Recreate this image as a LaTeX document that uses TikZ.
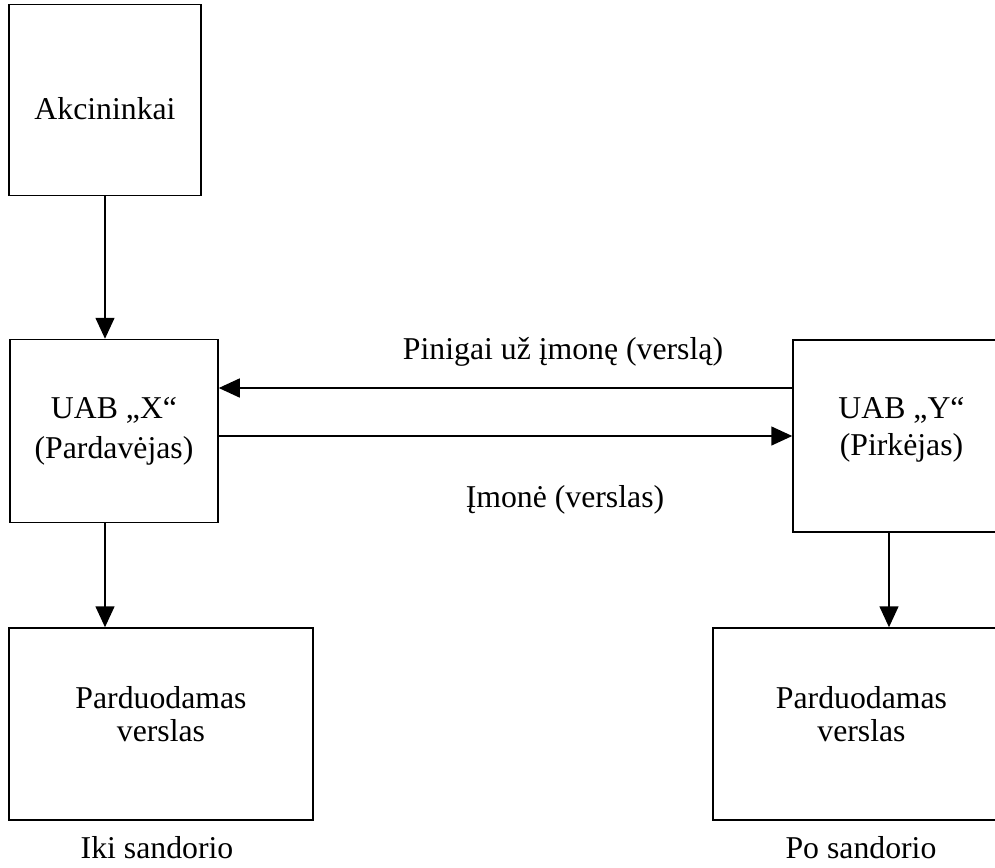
\documentclass[tikz,border=0pt]{standalone}
\usepackage{fontspec}
\setmainfont{Liberation Serif}
\usetikzlibrary{positioning,arrows.meta,calc}
\tikzset{
  box/.style={draw=black, line width=0.6pt, align=center, inner sep=3pt,
    font=\fontsize{12.7}{14.6}\selectfont},
  flow/.style={-{Triangle[length=8.4pt, width=7.6pt]}, line width=0.6pt, draw=black},
  lab/.style={font=\fontsize{12.7}{14.6}\selectfont, align=center, inner sep=1pt},
}

\begin{document}
\begin{tikzpicture}[x=0.4pt, y=-0.4pt]
    \useasboundingbox (0,0) rectangle (995,868);
    % shareholders and seller
    \node[box, minimum width=76.8pt, minimum height=76.4pt, text height=15.9pt, text depth=0pt]
      (akc) at (105,100) {Akcininkai};
    \node[box, minimum width=83.2pt, minimum height=73.2pt] (uabx) at (114,431)
      {UAB „X“\\[1.4pt](Pardavėjas)};
    % buyer, runs past the right edge
    \node[box, minimum width=86.8pt, minimum height=76.8pt, text depth=7.5pt] (uaby) at (901.5,436)
      {UAB „Y“\\(Pirkėjas)};
    % business before / after
    \node[box, minimum width=121.6pt, minimum height=76.8pt, text depth=8pt] (sold) at (161,724)
      {Parduodamas\\[-1.3pt]verslas};
    \node[box, minimum width=118.8pt, minimum height=76.8pt, text depth=8pt] (bought) at (861.5,724)
      {Parduodamas\\[-1.3pt]verslas};
    \node[lab] (iki) at (157,848) {Iki sandorio};
    \node[lab] (po) at (861,848) {Po sandorio};
    % helper coordinates
    \coordinate (pin) at (500,388);
    \coordinate (imo) at (500,436);
    \coordinate (ydown) at (889,0);
    \draw[flow] (akc.south) -- (akc.south |- uabx.north);
    \draw[flow] (uaby.west |- pin) -- (uabx.east |- pin);
    \draw[flow] (uabx.east |- imo) -- (uaby.west |- imo);
    \node[lab] (pinlab) at (563,352) {Pinigai už įmonę (verslą)};
    \node[lab] (imolab) at (565,500) {Įmonė (verslas)};
    \draw[flow] (uabx.south -| akc.south) -- (sold.north -| akc.south);
    \draw[flow] (uaby.south -| ydown) -- (bought.north -| ydown);
  \end{tikzpicture}
\end{document}
